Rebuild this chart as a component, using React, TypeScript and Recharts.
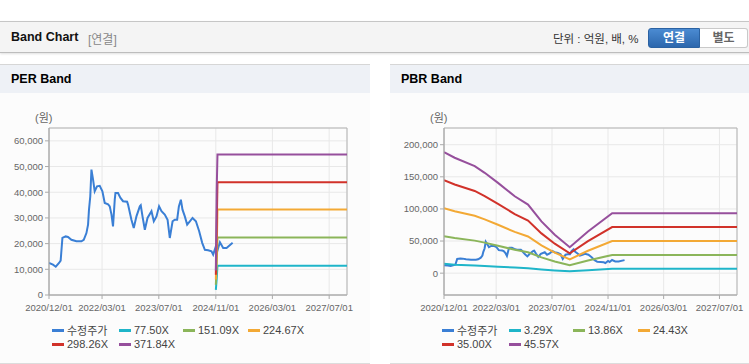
import { CartesianGrid, Line, LineChart, ReferenceArea, XAxis, YAxis } from "recharts";

const FONT = "'Liberation Sans', Arial, 'Noto Sans CJK KR', sans-serif";

// 수정주가 (adjusted close), shared by both panels
const priceDates = [
  "2020/12/01", "2021/01/04", "2021/01/28", "2021/02/25", "2021/03/11", "2021/03/26",
  "2021/04/23", "2021/05/13", "2021/06/11", "2021/07/24", "2021/09/05", "2021/09/25",
  "2021/10/18", "2021/11/01", "2021/11/09", "2021/11/20", "2021/11/30", "2021/12/14",
  "2021/12/28", "2022/01/17", "2022/02/09", "2022/03/04", "2022/03/24", "2022/04/22",
  "2022/05/06", "2022/05/21", "2022/06/03", "2022/06/18", "2022/06/24", "2022/07/16",
  "2022/08/06", "2022/08/28", "2022/10/02", "2022/10/10", "2022/11/08", "2022/11/28",
  "2022/12/21", "2023/01/19", "2023/01/27", "2023/02/11", "2023/03/03", "2023/03/26",
  "2023/04/29", "2023/05/19", "2023/06/11", "2023/07/03", "2023/07/24", "2023/08/21",
  "2023/09/14", "2023/10/03", "2023/10/27", "2023/11/15", "2023/12/05", "2023/12/20",
  "2024/01/06", "2024/01/20", "2024/02/09", "2024/02/29", "2024/03/23", "2024/04/15",
  "2024/05/14", "2024/06/11", "2024/07/07", "2024/07/30", "2024/08/27", "2024/09/25",
  "2024/10/09", "2024/11/01", "2024/11/15", "2024/12/06", "2025/01/03", "2025/02/01",
  "2025/03/25",
];
const priceValues = [
  12470, 11800, 11000, 12470, 13400, 22200,
  22800, 22600, 21500, 20900, 20900, 21500,
  24100, 27400, 33200, 38400, 48800, 44900,
  40400, 42300, 42500, 40400, 35800, 35300,
  34500, 31300, 26700, 37100, 39700, 39700,
  37800, 36500, 36300, 35200, 29300, 26100,
  30600, 34500, 34900, 30600, 25400, 30000,
  32600, 28700, 30600, 34500, 32600, 31300,
  29300, 22200, 28700, 29300, 29300, 34500,
  37100, 33200, 30600, 27400, 28700, 30000,
  28700, 24800, 20300, 17600, 17400, 17000,
  15700, 18900, 17300, 20500, 18300, 18300,
  20300,
];

const xTickDates = ["2020/12/01", "2022/03/01", "2023/07/01", "2024/11/01", "2026/03/01", "2027/07/01"];
const xStart = "2020/12/01";
const xEnd = "2027/12/01";

// PER band
const perLabels = ["77.50X", "151.09X", "224.67X", "298.26X", "371.84X"];
const perBandDates = ["2024/11/01", "2024/11/08", "2024/11/15", "2027/12/01"];
const perBand1 = [2000, 6000, 11430, 11430];
const perBand2 = [4000, 11000, 22400, 22400];
const perBand3 = [6000, 16500, 33300, 33300];
const perBand4 = [7900, 25000, 43900, 43900];
const perBand5 = [9500, 40000, 54700, 54700];
const perYTicks = [0, 10000, 20000, 30000, 40000, 50000, 60000];

// PBR band
const pbrLabels = ["3.29X", "13.86X", "24.43X", "35.00X", "45.57X"];
const pbrBandDates = [
  "2020/12/01", "2021/03/04", "2021/08/26", "2021/11/21", "2022/03/17", "2022/08/10",
  "2022/12/04", "2023/03/31", "2023/07/25", "2023/12/03", "2024/05/10", "2024/12/07",
  "2027/12/01",
];
const pbrBand1 = [14500, 12970, 12030, 11280, 10150, 8640, 7700, 5820, 4320, 2910, 4690, 6740, 6740];
const pbrBand2 = [57300, 54650, 50670, 47530, 42760, 36410, 32450, 24520, 18180, 12250, 19760, 28410, 28410];
const pbrBand3 = [101000, 96330, 89320, 83770, 75370, 64180, 57190, 43220, 32050, 21600, 34840, 50080, 50080];
const pbrBand4 = [144700, 138000, 127960, 120020, 107980, 91950, 81940, 61920, 45920, 30940, 49910, 71750, 71750];
const pbrBand5 = [188400, 179700, 166600, 156250, 140600, 119700, 106700, 80600, 59800, 40300, 65000, 93400, 93400];
const pbrYTicks = [0, 50000, 100000, 150000, 200000];

const PRICE_COLOR = "#3a7fd5";
const BAND_COLORS = ["#1fb5c9", "#8bb55a", "#f3a935", "#d1322a", "#964f9c"];

function toTs(s: string) {
  const [y, m, d] = s.split("/").map(Number);
  return Date.UTC(y, m - 1, d);
}

function fmtDate(t: number) {
  const d = new Date(t);
  const mm = String(d.getUTCMonth() + 1).padStart(2, "0");
  const dd = String(d.getUTCDate()).padStart(2, "0");
  return `${d.getUTCFullYear()}/${mm}/${dd}`;
}

const fmtNum = (v: number) => v.toLocaleString("en-US");

const priceData = priceDates.map((d, i) => ({ t: toTs(d), v: priceValues[i] }));

type PanelProps = {
  left: number;
  title: string;
  yAxisWidth: number;
  yDomain: [number, number];
  yTicks: number[];
  bandDates: string[];
  bands: number[][];
  labels: string[];
};

const LEGEND_COLS = [52, 119, 183, 248];

function BandPanel({ left, title, yAxisWidth, yDomain, yTicks, bandDates, bands, labels }: PanelProps) {
  const xMin = toTs(xStart);
  const xMax = toTs(xEnd);
  const legendItems = [{ name: "수정주가", color: PRICE_COLOR }].concat(
    labels.map((l, i) => ({ name: l, color: BAND_COLORS[i] }))
  );

  return (
    <div
      style={{
        position: "absolute",
        left,
        top: 64,
        width: 370,
        height: 298,
        background: "#fcfcfc",
        borderTop: "1px solid #d6d6d6",
        borderBottom: "1px solid #dcdcdc",
      }}
    >
      <div
        style={{
          height: 28,
          background: "#eef1f6",
          fontWeight: "bold",
          fontSize: 12.5,
          color: "#000",
          lineHeight: "28px",
          paddingLeft: 11,
        }}
      >
        {title}
      </div>
      <div
        style={{
          position: "absolute",
          left: yAxisWidth - 14,
          top: 46,
          fontSize: 11,
          color: "#666",
          lineHeight: "14px",
        }}
      >
        (원)
      </div>
      <div style={{ position: "absolute", left: 0, top: 35 }}>
        <LineChart width={370} height={225} margin={{ top: 28, right: 23, bottom: 0, left: 0 }}>
          <CartesianGrid stroke="#e8e8e8" />
          <XAxis
            dataKey="t"
            type="number"
            domain={[xMin, xMax]}
            ticks={xTickDates.map(toTs)}
            tickFormatter={fmtDate}
            allowDataOverflow
            height={30}
            tick={{ fill: "#666", fontSize: 9.5 }}
            tickSize={4}
            tickMargin={5}
            axisLine={{ stroke: "#aaa" }}
            tickLine={{ stroke: "#aaa" }}
            interval={0}
          />
          <YAxis
            type="number"
            domain={yDomain}
            ticks={yTicks}
            tickFormatter={fmtNum}
            allowDataOverflow
            width={yAxisWidth}
            tick={{ fill: "#666", fontSize: 9.5 }}
            tickSize={4}
            tickMargin={2}
            axisLine={{ stroke: "#aaa" }}
            tickLine={{ stroke: "#aaa" }}
            interval={0}
          />
          <ReferenceArea
            x1={xMin}
            x2={xMax}
            y1={yDomain[0]}
            y2={yDomain[1]}
            fill="none"
            stroke="#b4b4b4"
            strokeWidth={1}
            ifOverflow="visible"
          />
          <Line
            data={priceData}
            dataKey="v"
            type="linear"
            stroke={PRICE_COLOR}
            strokeWidth={2}
            dot={false}
            isAnimationActive={false}
          />
          {bands.map((vals, i) => (
            <Line
              key={labels[i]}
              data={bandDates.map((d, j) => ({ t: toTs(d), v: vals[j] }))}
              dataKey="v"
              type="linear"
              stroke={BAND_COLORS[i]}
              strokeWidth={2}
              dot={false}
              isAnimationActive={false}
            />
          ))}
        </LineChart>
      </div>
      {legendItems.map((it, i) => (
        <div
          key={it.name}
          style={{
            position: "absolute",
            left: LEGEND_COLS[i % 4],
            top: 258 + Math.floor(i / 4) * 14,
            height: 14,
            display: "flex",
            alignItems: "center",
            fontSize: 11,
            color: "#444",
            whiteSpace: "nowrap",
          }}
        >
          <span style={{ display: "inline-block", width: 12, height: 3, background: it.color, marginRight: 3 }} />
          {it.name}
        </div>
      ))}
    </div>
  );
}

export default function App() {
  return (
    <div
      style={{
        position: "absolute",
        left: 0,
        top: 0,
        width: 749,
        height: 364,
        overflow: "hidden",
        background: "#fff",
        fontFamily: FONT,
      }}
    >
      <div
        style={{
          position: "absolute",
          left: 0,
          top: 21,
          width: 760,
          height: 30,
          background: "#f4f4f4",
          borderTop: "1px solid #c6c6c6",
          borderBottom: "1px solid #bdbdbd",
          boxShadow: "0 1px 2px rgba(0,0,0,0.12)",
        }}
      >
        <span style={{ position: "absolute", left: 11, top: 8, fontSize: 12.5, fontWeight: "bold", color: "#111" }}>
          Band Chart
        </span>
        <span style={{ position: "absolute", left: 88, top: 8, fontSize: 12, color: "#888" }}>[연결]</span>
        <span style={{ position: "absolute", left: 553, top: 8, fontSize: 11.5, color: "#333" }}>
          단위 : 억원, 배, %
        </span>
        <div
          style={{
            position: "absolute",
            left: 648,
            top: 6,
            width: 50,
            height: 18,
            background: "linear-gradient(#4b8bd2, #2c67ad)",
            border: "1px solid #2b62a2",
            borderRadius: "3px 0 0 3px",
            color: "#fff",
            fontWeight: "bold",
            fontSize: 12,
            lineHeight: "18px",
            textAlign: "center",
          }}
        >
          연결
        </div>
        <div
          style={{
            position: "absolute",
            left: 700,
            top: 6,
            width: 47,
            height: 18,
            background: "#fff",
            border: "1px solid #c9c9c9",
            borderLeft: "none",
            borderRadius: "0 3px 3px 0",
            color: "#666",
            fontWeight: "bold",
            fontSize: 12,
            lineHeight: "18px",
            textAlign: "center",
          }}
        >
          별도
        </div>
      </div>
      <BandPanel
        left={0}
        title="PER Band"
        yAxisWidth={49}
        yDomain={[0, 65000]}
        yTicks={perYTicks}
        bandDates={perBandDates}
        bands={[perBand1, perBand2, perBand3, perBand4, perBand5]}
        labels={perLabels}
      />
      <BandPanel
        left={390}
        title="PBR Band"
        yAxisWidth={54}
        yDomain={[-34000, 226000]}
        yTicks={pbrYTicks}
        bandDates={pbrBandDates}
        bands={[pbrBand1, pbrBand2, pbrBand3, pbrBand4, pbrBand5]}
        labels={pbrLabels}
      />
    </div>
  );
}
